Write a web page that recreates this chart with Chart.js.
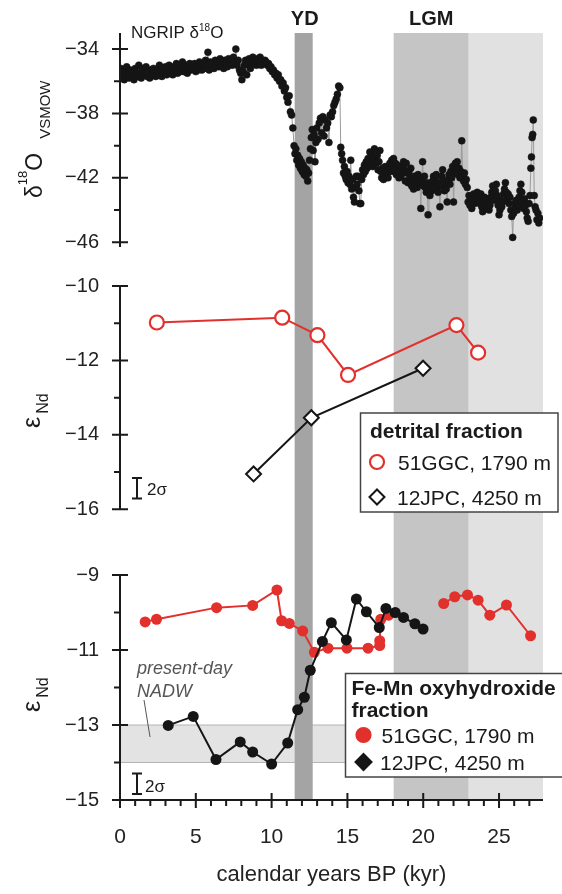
<!DOCTYPE html>
<html>
<head>
<meta charset="utf-8">
<script src="https://cdn.jsdelivr.net/npm/chart.js@4.4.1/dist/chart.umd.min.js"></script>
<style>
  html, body { margin: 0; padding: 0; background: #fff; }
</style>
</head>
<body>
<canvas id="chart" width="562" height="894"></canvas>
<script>
// NGRIP d18O (ice core), kyr BP
const ngripAge = [
  0.05, 0.12, 0.2, 0.28, 0.36, 0.44, 0.52, 0.6, 0.68, 0.76,
  0.84, 0.92, 1.0, 1.08, 1.16, 1.24, 1.32, 1.4, 1.48, 1.56,
  1.64, 1.72, 1.8, 1.88, 1.96, 2.04, 2.12, 2.2, 2.28, 2.36,
  2.44, 2.52, 2.6, 2.68, 2.76, 2.84, 2.92, 3.0, 3.08, 3.16,
  3.24, 3.32, 3.4, 3.48, 3.56, 3.64, 3.72, 3.8, 3.88, 3.96,
  4.04, 4.12, 4.2, 4.28, 4.36, 4.44, 4.52, 4.6, 4.68, 4.76,
  4.84, 4.92, 5.0, 5.08, 5.16, 5.24, 5.32, 5.4, 5.48, 5.56,
  5.64, 5.72, 5.8, 5.88, 5.96, 6.04, 6.12, 6.2, 6.28, 6.36,
  6.44, 6.52, 6.6, 6.68, 6.76, 6.84, 6.92, 7.0, 7.08, 7.16,
  7.24, 7.32, 7.4, 7.48, 7.56, 7.64, 7.72, 7.8, 7.88, 7.96,
  8.04, 8.12, 8.2, 8.28, 8.36, 8.44, 8.52, 8.6, 8.68, 8.76,
  8.84, 8.92, 9.0, 9.08, 9.16, 9.24, 9.32, 9.4, 9.48, 9.56,
  9.64, 9.72, 9.8, 9.88, 9.96, 10.04, 10.12, 10.2, 10.28, 10.36,
  10.44, 10.52, 10.6, 10.68, 10.76, 10.84, 10.92, 11.0, 11.08, 11.16,
  11.24, 11.32, 11.4, 11.48, 11.54, 11.6, 11.66, 11.72, 11.78, 11.84,
  11.9, 11.96, 12.02, 12.08, 12.14, 12.2, 12.26, 12.32, 12.38, 12.44,
  12.5, 12.56, 12.62, 12.68, 12.74, 12.8, 12.86, 12.92, 12.98, 13.06,
  13.14, 13.22, 13.3, 13.38, 13.46, 13.54, 13.62, 13.7, 13.78, 13.86,
  13.94, 14.02, 14.1, 14.18, 14.26, 14.34, 14.42, 14.5, 14.56, 14.62,
  14.68, 14.74, 14.8, 14.86, 14.92, 14.98, 15.04, 15.1, 15.16, 15.22,
  15.28, 15.34, 15.4, 15.46, 15.52, 15.58, 15.64, 15.7, 15.76, 15.82,
  15.88, 15.94, 16.0, 16.06, 16.12, 16.18, 16.24, 16.3, 16.36, 16.42,
  16.48, 16.54, 16.6, 16.66, 16.72, 16.78, 16.84, 16.9, 16.96, 17.02,
  17.08, 17.14, 17.2, 17.26, 17.32, 17.38, 17.44, 17.5, 17.56, 17.62,
  17.68, 17.74, 17.8, 17.86, 17.92, 17.98, 18.04, 18.1, 18.16, 18.22,
  18.28, 18.34, 18.4, 18.46, 18.52, 18.58, 18.64, 18.7, 18.76, 18.82,
  18.88, 18.94, 19.0, 19.06, 19.12, 19.18, 19.24, 19.3, 19.36, 19.42,
  19.48, 19.54, 19.6, 19.66, 19.72, 19.78, 19.84, 19.9, 19.96, 20.02,
  20.08, 20.14, 20.2, 20.26, 20.32, 20.38, 20.44, 20.5, 20.56, 20.62,
  20.68, 20.74, 20.8, 20.86, 20.92, 20.98, 21.04, 21.1, 21.16, 21.22,
  21.28, 21.34, 21.4, 21.46, 21.52, 21.58, 21.64, 21.7, 21.76, 21.82,
  21.88, 21.94, 22.0, 22.06, 22.12, 22.18, 22.24, 22.3, 22.36, 22.42,
  22.48, 22.54, 22.6, 22.66, 22.72, 22.78, 22.84, 22.9, 22.96, 23.02,
  23.08, 23.14, 23.2, 23.26, 23.32, 23.38, 23.44, 23.5, 23.56, 23.62,
  23.68, 23.74, 23.8, 23.86, 23.92, 23.98, 24.04, 24.1, 24.16, 24.22,
  24.28, 24.34, 24.4, 24.46, 24.52, 24.58, 24.64, 24.7, 24.76, 24.82,
  24.88, 24.94, 25.0, 25.06, 25.12, 25.18, 25.24, 25.3, 25.36, 25.42,
  25.48, 25.54, 25.6, 25.66, 25.72, 25.78, 25.84, 25.9, 25.96, 26.02,
  26.08, 26.14, 26.2, 26.26, 26.32, 26.38, 26.44, 26.5, 26.56, 26.62,
  26.68, 26.74, 26.8, 26.86, 26.92, 26.98, 27.04, 27.1, 27.14, 27.18,
  27.22, 27.26, 27.32, 27.38, 27.44, 27.5, 27.56, 27.62, 27.68
];
const ngripD18O = [
  -35.2, -35.7, -35.4, -35.9, -35.5, -35.1, -35.6, -35.8, -35.3, -35.6,
  -35.4, -35.9, -35.2, -35.6, -35.7, -35.0, -35.5, -35.8, -35.2, -35.6,
  -35.5, -35.1, -35.7, -35.4, -35.8, -35.3, -35.6, -35.2, -35.5, -35.7,
  -35.3, -35.6, -35.0, -35.4, -35.7, -35.2, -35.5, -35.1, -35.6, -35.3,
  -35.0, -35.5, -35.3, -35.6, -35.1, -35.4, -34.9, -35.5, -35.2, -35.4,
  -35.1, -34.8, -35.4, -35.2, -35.0, -35.5, -35.1, -34.9, -35.3, -35.0,
  -35.2, -34.9, -35.4, -35.0, -35.3, -34.8, -35.1, -35.3, -34.9, -35.2,
  -34.7, -35.0, -34.2, -35.3, -34.8, -35.1, -34.9, -35.2, -34.7, -35.0,
  -34.8, -35.1, -34.6, -35.0, -34.9, -35.2, -34.7, -34.9, -35.1, -34.6,
  -34.9, -34.7, -35.0, -34.5, -34.8, -34.0, -35.0, -34.7, -35.3, -35.5,
  -35.9, -35.4, -35.0, -34.7, -35.6, -34.9, -34.6, -35.2, -34.8, -34.5,
  -34.9, -34.7, -35.0, -34.6, -34.8, -34.5, -35.0, -34.7, -34.9, -34.7,
  -34.8, -35.0, -34.9, -35.2, -35.1, -35.4, -35.3, -35.6, -35.5, -35.8,
  -35.6, -36.0, -35.9, -36.3, -36.1, -36.6, -36.4, -37.0, -37.3, -36.9,
  -37.9, -38.1, -38.9, -40.0, -40.5, -40.2, -40.9, -40.6, -41.2, -40.8,
  -41.4, -41.0, -41.6, -41.2, -41.8, -41.4, -41.9, -41.5, -42.2, -41.7,
  -40.9, -40.2, -39.5, -39.0, -40.3, -39.3, -41.0, -39.8, -38.9, -39.6,
  -38.6, -38.3, -39.2, -38.2, -39.4, -38.4, -38.9, -38.6, -39.8, -38.1,
  -38.2, -37.9, -37.5, -37.3, -37.1, -36.8, -36.3, -36.4, -40.1, -40.5,
  -40.9, -41.7, -41.3, -41.9, -42.1, -41.6, -42.3, -41.9, -42.4, -40.9,
  -42.7, -42.1, -43.2, -43.5, -42.6, -41.9, -42.4, -41.9, -42.8, -43.6,
  -43.6, -42.1, -41.5, -41.8, -41.2, -41.6, -41.0, -41.4, -40.8, -41.2,
  -40.4, -41.0, -40.5, -41.3, -40.9, -40.2, -40.7, -41.1, -40.6, -41.5,
  -41.0, -40.3, -41.6, -42.0, -41.4, -42.1, -41.7, -41.3, -41.8, -41.4,
  -42.0, -41.5, -41.1, -41.6, -40.9, -41.3, -40.8, -41.5, -41.1, -41.8,
  -41.2, -41.6, -42.0, -41.4, -41.9, -41.3, -41.7, -41.0, -41.5, -42.2,
  -41.1, -41.7, -42.3, -41.6, -42.0, -41.4, -42.5, -42.1, -42.7, -41.9,
  -42.4, -42.0, -42.6, -41.8, -42.3, -42.0, -43.9, -42.2, -41.0, -42.5,
  -41.9, -42.6, -42.9, -42.3, -44.3, -42.7, -43.1, -42.4, -42.8, -42.2,
  -41.9, -42.6, -42.0, -41.8, -42.5, -42.9, -42.3, -43.8, -42.5, -41.9,
  -41.5, -42.2, -42.8, -42.4, -42.7, -43.5, -42.1, -41.8, -42.4, -41.6,
  -42.0, -41.3, -43.5, -41.7, -41.1, -41.5, -41.0, -41.8, -41.4, -42.0,
  -41.6, -39.7, -41.9, -42.2, -41.7, -42.4, -42.1, -42.6, -43.5, -43.1,
  -43.7, -43.3, -43.9, -43.4, -43.0, -43.6, -43.2, -43.5, -42.9, -43.4,
  -43.1, -43.6, -43.0, -43.8, -44.1, -43.5, -43.2, -43.7, -43.3, -43.9,
  -43.5, -44.0, -43.7, -43.2, -42.9, -42.5, -43.0, -43.4, -42.8, -42.4,
  -43.1, -43.7, -44.3, -44.0, -43.4, -43.8, -43.5, -43.0, -42.7, -42.3,
  -42.9, -43.3, -43.0, -43.6, -43.2, -44.0, -44.4, -45.7, -44.2, -43.6,
  -43.9, -43.4, -44.0, -43.7, -43.2, -42.8, -42.4, -42.9, -43.5, -43.9,
  -43.3, -43.7, -44.1, -44.5, -44.7, -43.6, -43.1, -41.4, -40.7, -39.5,
  -39.3, -38.4, -43.1, -43.8, -44.0, -44.6, -44.2, -44.8, -44.5
];

// detrital fraction eps Nd
const det51Age = [2.43, 10.7, 13.02, 15.04, 22.19, 23.62];
const det51Nd = [-10.98, -10.85, -11.32, -12.39, -11.05, -11.79];
const det12Age = [8.81, 12.62, 19.99];
const det12Nd = [-15.05, -13.54, -12.21];

// Fe-Mn oxyhydroxide fraction eps Nd (null = gap in record)
const fe51Age = [1.66, 2.41, 6.37, 8.75, 10.35, 10.66, 11.17, 12.05, 12.82, 13.72, 14.97, 16.36, 17.13, 17.13, 17.2, 17.72, 19.5, 21.35, 22.08, 22.92, 23.62, 24.39, 25.49, 27.08];
const fe51Nd = [-10.25, -10.18, -9.87, -9.81, -9.4, -10.22, -10.29, -10.49, -11.06, -10.95, -10.95, -10.95, -10.88, -10.75, -10.18, -10.07, null, -9.76, -9.58, -9.53, -9.67, -10.07, -9.8, -10.62];
const fe12Age = [3.18, 4.83, 6.33, 7.93, 8.75, 10.0, 11.06, 11.72, 12.16, 12.55, 13.35, 13.94, 14.93, 15.59, 16.25, 17.1, 17.54, 18.15, 18.7, 19.45, 19.99];
const fe12Nd = [-13.01, -12.77, -13.92, -13.45, -13.72, -14.04, -13.48, -12.59, -12.26, -11.54, -10.77, -10.27, -10.73, -9.64, -9.98, -10.4, -9.89, -10.0, -10.13, -10.3, -10.44];

// axes
const xTicks = [0, 1, 2, 3, 4, 5, 6, 7, 8, 9, 10, 11, 12, 13, 14, 15, 16, 17, 18, 19, 20, 21, 22, 23, 24, 25, 26, 27];
const xLabels = [0, 5, 10, 15, 20, 25];
const topTicks = [-46, -44, -42, -40, -38, -36, -34];
const topLabels = [-46, -42, -38, -34];
const midTicks = [-16, -15, -14, -13, -12, -11, -10];
const midLabels = [-16, -14, -12, -10];
const botTicks = [-15, -14, -13, -12, -11, -10, -9];
const botLabels = [-15, -13, -11, -9];

// shaded intervals (kyr) and present-day NADW range
const ydSpan = [11.52, 12.71];
const lgmSpan = [18.05, 23.0];
const lateSpan = [23.0, 27.9];
const nadwRange = [-14, -13];

const RED = '#e2302c';
const BLACK = '#151515';
const FONT = '"Liberation Sans", Arial, Helvetica, sans-serif';

const pts = (xs, ys) => xs.map((x, i) => ({ x: x, y: ys[i] }));
const minus = (v) => String(v).replace('-', '\u2212');

function yScale(min, max, weight, ticks, labels) {
  return {
    type: 'linear',
    position: 'left',
    stack: 'panels',
    stackWeight: weight,
    min: min,
    max: max,
    afterBuildTicks: (s) => { s.ticks = ticks.map((v) => ({ value: v })); },
    afterFit: (s) => { s.width = 120; },
    grid: { display: false, drawTicks: false },
    border: { display: false },
    ticks: {
      autoSkip: false,
      padding: 21,
      color: '#222',
      font: { size: 20 },
      callback: (v) => (labels.includes(v) ? minus(v) : ''),
    },
  };
}

function rich(ctx, x, y, parts, rotate) {
  ctx.save();
  ctx.translate(x, y);
  if (rotate) ctx.rotate(-Math.PI / 2);
  ctx.textAlign = 'left';
  ctx.textBaseline = 'alphabetic';
  let cx = 0;
  parts.forEach((p) => {
    ctx.font = p.font;
    cx += p.gap || 0;
    ctx.fillText(p.text, cx, p.dy || 0);
    cx += ctx.measureText(p.text).width;
  });
  ctx.restore();
}

function drawYAxis(ctx, scale, x, from, to, ticks, labels) {
  ctx.beginPath();
  ctx.moveTo(x, scale.getPixelForValue(from));
  ctx.lineTo(x, scale.getPixelForValue(to));
  ticks.forEach((v) => {
    const y = scale.getPixelForValue(v);
    if (labels.includes(v)) {
      ctx.moveTo(x - 8, y);
      ctx.lineTo(x + 8, y);
    } else {
      ctx.moveTo(x - 6, y);
      ctx.lineTo(x, y);
    }
  });
  ctx.stroke();
}

function errorBar(ctx, scale, xPix, lo, hi) {
  const a = scale.getPixelForValue(hi);
  const b = scale.getPixelForValue(lo);
  ctx.beginPath();
  ctx.moveTo(xPix, a);
  ctx.lineTo(xPix, b);
  ctx.moveTo(xPix - 5, a);
  ctx.lineTo(xPix + 5, a);
  ctx.moveTo(xPix - 5, b);
  ctx.lineTo(xPix + 5, b);
  ctx.stroke();
}

function box(ctx, l, t, r, b) {
  ctx.fillStyle = '#fff';
  ctx.fillRect(l, t, r - l, b - t);
  ctx.strokeStyle = '#444';
  ctx.lineWidth = 1.5;
  ctx.strokeRect(l, t, r - l, b - t);
}

function circle(ctx, x, y, r, fill, stroke) {
  ctx.beginPath();
  ctx.arc(x, y, r, 0, Math.PI * 2);
  ctx.fillStyle = fill;
  ctx.fill();
  ctx.lineWidth = 2.2;
  ctx.strokeStyle = stroke;
  ctx.stroke();
}

function diamond(ctx, x, y, r, fill, stroke) {
  ctx.beginPath();
  ctx.moveTo(x, y - r);
  ctx.lineTo(x + r, y);
  ctx.lineTo(x, y + r);
  ctx.lineTo(x - r, y);
  ctx.closePath();
  ctx.fillStyle = fill;
  ctx.fill();
  ctx.lineWidth = 2;
  ctx.strokeStyle = stroke;
  ctx.stroke();
}

const decor = {
  id: 'decor',
  beforeDatasetsDraw(chart) {
    const { ctx, chartArea: a, scales } = chart;
    const x = scales.x;
    const yb = scales.yBot;
    ctx.save();
    // present-day NADW band
    const t = yb.getPixelForValue(nadwRange[1]);
    const b = yb.getPixelForValue(nadwRange[0]);
    ctx.fillStyle = '#e3e3e3';
    ctx.fillRect(a.left, t, a.right - a.left, b - t);
    ctx.strokeStyle = '#b4b4b4';
    ctx.lineWidth = 1;
    ctx.beginPath();
    ctx.moveTo(a.left, t); ctx.lineTo(a.right, t);
    ctx.moveTo(a.left, b); ctx.lineTo(a.right, b);
    ctx.stroke();
    // YD / LGM shading
    [[ydSpan, '#a4a4a4'], [lgmSpan, '#c5c5c5'], [lateSpan, '#e1e1e1']].forEach(([s, c]) => {
      const l = x.getPixelForValue(s[0]);
      const r = x.getPixelForValue(s[1]);
      ctx.fillStyle = c;
      ctx.fillRect(l, a.top, r - l, a.bottom - a.top);
    });
    ctx.restore();
  },
  afterDraw(chart) {
    const { ctx, chartArea: a, scales } = chart;
    const x = scales.x;
    ctx.save();
    ctx.strokeStyle = '#1a1a1a';
    ctx.fillStyle = '#1a1a1a';
    ctx.lineWidth = 2;

    // axes
    drawYAxis(ctx, scales.yTop, a.left, -33, -46.3, topTicks, topLabels);
    drawYAxis(ctx, scales.yMid, a.left, -10, -16, midTicks, midLabels);
    drawYAxis(ctx, scales.yBot, a.left, -9, -15, botTicks, botLabels);
    ctx.beginPath();
    ctx.moveTo(a.left - 1, a.bottom);
    ctx.lineTo(a.right, a.bottom);
    xTicks.forEach((v) => {
      const px = x.getPixelForValue(v);
      if (xLabels.includes(v)) {
        ctx.moveTo(px, a.bottom - 7);
        ctx.lineTo(px, a.bottom + 8);
      } else {
        ctx.moveTo(px, a.bottom);
        ctx.lineTo(px, a.bottom + 6);
      }
    });
    ctx.stroke();

    // axis titles
    rich(ctx, 42, 198, [
      { text: 'δ', font: '23px ' + FONT },
      { text: '18', font: '13px ' + FONT, dy: -15 },
      { text: 'O', font: '23px ' + FONT },
      { text: 'VSMOW', font: '15px ' + FONT, dy: 8, gap: 14 },
    ], true);
    [428, 712].forEach((y) => {
      rich(ctx, 40, y, [
        { text: 'ε', font: '25px ' + FONT },
        { text: 'Nd', font: '16px ' + FONT, dy: 8, gap: 3 },
      ], true);
    });

    // labels
    rich(ctx, 131, 38, [
      { text: 'NGRIP δ', font: '17px ' + FONT },
      { text: '18', font: '10px ' + FONT, dy: -7 },
      { text: 'O', font: '17px ' + FONT },
    ]);
    ctx.textAlign = 'center';
    ctx.font = 'bold 20px ' + FONT;
    ctx.fillText('YD', x.getPixelForValue((ydSpan[0] + ydSpan[1]) / 2) + 1, 25);
    ctx.fillText('LGM', x.getPixelForValue((lgmSpan[0] + lgmSpan[1]) / 2), 25);

    // 2 sigma bars
    ctx.lineWidth = 2;
    errorBar(ctx, scales.yMid, 137, -15.71, -15.16);
    errorBar(ctx, scales.yBot, 137, -14.84, -14.29);
    ctx.textAlign = 'left';
    ctx.font = '17px ' + FONT;
    ctx.fillText('2σ', 147, 495);
    ctx.fillText('2σ', 145, 792);

    // present-day NADW
    ctx.fillStyle = '#555';
    ctx.font = 'italic 18px ' + FONT;
    ctx.fillText('present-day', 137, 674);
    ctx.fillText('NADW', 137, 697);
    ctx.strokeStyle = '#555';
    ctx.lineWidth = 1;
    ctx.beginPath();
    ctx.moveTo(144, 700);
    ctx.lineTo(150, 737);
    ctx.stroke();

    // legend: detrital
    box(ctx, 360.5, 413, 558, 512);
    ctx.fillStyle = '#1a1a1a';
    ctx.font = 'bold 21px ' + FONT;
    ctx.fillText('detrital fraction', 370, 438);
    circle(ctx, 377, 462, 7, '#fff', RED);
    diamond(ctx, 377, 497, 7.5, '#fff', BLACK);
    ctx.fillStyle = '#1a1a1a';
    ctx.font = '21px ' + FONT;
    ctx.fillText('51GGC, 1790 m', 398, 470);
    ctx.fillText('12JPC, 4250 m', 397, 505);

    // legend: Fe-Mn
    box(ctx, 345.5, 673.5, 572, 777);
    ctx.fillStyle = '#1a1a1a';
    ctx.font = 'bold 21px ' + FONT;
    ctx.fillText('Fe-Mn oxyhydroxide', 351.5, 695);
    ctx.fillText('fraction', 351.5, 717);
    circle(ctx, 363.5, 735, 7, RED, RED);
    diamond(ctx, 363.5, 762, 8, BLACK, BLACK);
    ctx.fillStyle = '#1a1a1a';
    ctx.font = '21px ' + FONT;
    ctx.fillText('51GGC, 1790 m', 381.5, 743);
    ctx.fillText('12JPC, 4250 m', 380, 770);
    ctx.restore();
  },
};

Chart.defaults.font.family = FONT;
Chart.defaults.color = '#222';

new Chart(document.getElementById('chart'), {
  type: 'scatter',
  data: {
    datasets: [
      {
        label: 'NGRIP d18O',
        data: pts(ngripAge, ngripD18O),
        yAxisID: 'yTop',
        showLine: true,
        borderColor: '#9a9a9a',
        borderWidth: 1,
        pointRadius: 3.5,
        pointBackgroundColor: BLACK,
        pointBorderColor: BLACK,
        pointBorderWidth: 0.5,
        order: 5,
      },
      {
        label: '51GGC detrital',
        data: pts(det51Age, det51Nd),
        yAxisID: 'yMid',
        showLine: true,
        borderColor: RED,
        borderWidth: 2,
        pointRadius: 7,
        pointBackgroundColor: '#fff',
        pointBorderColor: RED,
        pointBorderWidth: 2.2,
        order: 3,
      },
      {
        label: '12JPC detrital',
        data: pts(det12Age, det12Nd),
        yAxisID: 'yMid',
        showLine: true,
        borderColor: BLACK,
        borderWidth: 2,
        pointStyle: 'rectRot',
        pointRadius: 7.5,
        pointBackgroundColor: '#fff',
        pointBorderColor: BLACK,
        pointBorderWidth: 2,
        order: 4,
      },
      {
        label: '51GGC Fe-Mn',
        data: pts(fe51Age, fe51Nd),
        yAxisID: 'yBot',
        showLine: true,
        spanGaps: false,
        borderColor: RED,
        borderWidth: 2,
        pointRadius: 5.5,
        pointBackgroundColor: RED,
        pointBorderColor: RED,
        pointBorderWidth: 0,
        order: 2,
      },
      {
        label: '12JPC Fe-Mn',
        data: pts(fe12Age, fe12Nd),
        yAxisID: 'yBot',
        showLine: true,
        borderColor: BLACK,
        borderWidth: 2,
        pointRadius: 5.5,
        pointBackgroundColor: BLACK,
        pointBorderColor: BLACK,
        pointBorderWidth: 0,
        order: 1,
      },
    ],
  },
  options: {
    responsive: false,
    animation: false,
    devicePixelRatio: 1,
    layout: { padding: { left: 0, top: 30, right: 19, bottom: 0 } },
    plugins: { legend: { display: false }, tooltip: { enabled: false } },
    scales: {
      x: {
        type: 'linear',
        position: 'bottom',
        min: 0,
        max: 27.9,
        afterBuildTicks: (s) => { s.ticks = xTicks.map((v) => ({ value: v })); },
        afterFit: (s) => { s.height = 94; },
        grid: { display: false, drawTicks: false },
        border: { display: false },
        ticks: {
          autoSkip: false,
          maxRotation: 0,
          padding: 25,
          color: '#222',
          font: { size: 21 },
          callback: (v) => (xLabels.includes(v) ? String(v) : ''),
        },
        title: {
          display: true,
          text: 'calendar years BP (kyr)',
          color: '#222',
          font: { size: 22 },
          padding: { top: 0, bottom: 6 },
        },
      },
      yBot: yScale(-15, -8.12, 259, botTicks, botLabels),
      yMid: yScale(-16.88, -9.41, 279, midTicks, midLabels),
      yTop: yScale(-47.36, -33, 232, topTicks, topLabels),
    },
  },
  plugins: [decor],
});
</script>
</body>
</html>
